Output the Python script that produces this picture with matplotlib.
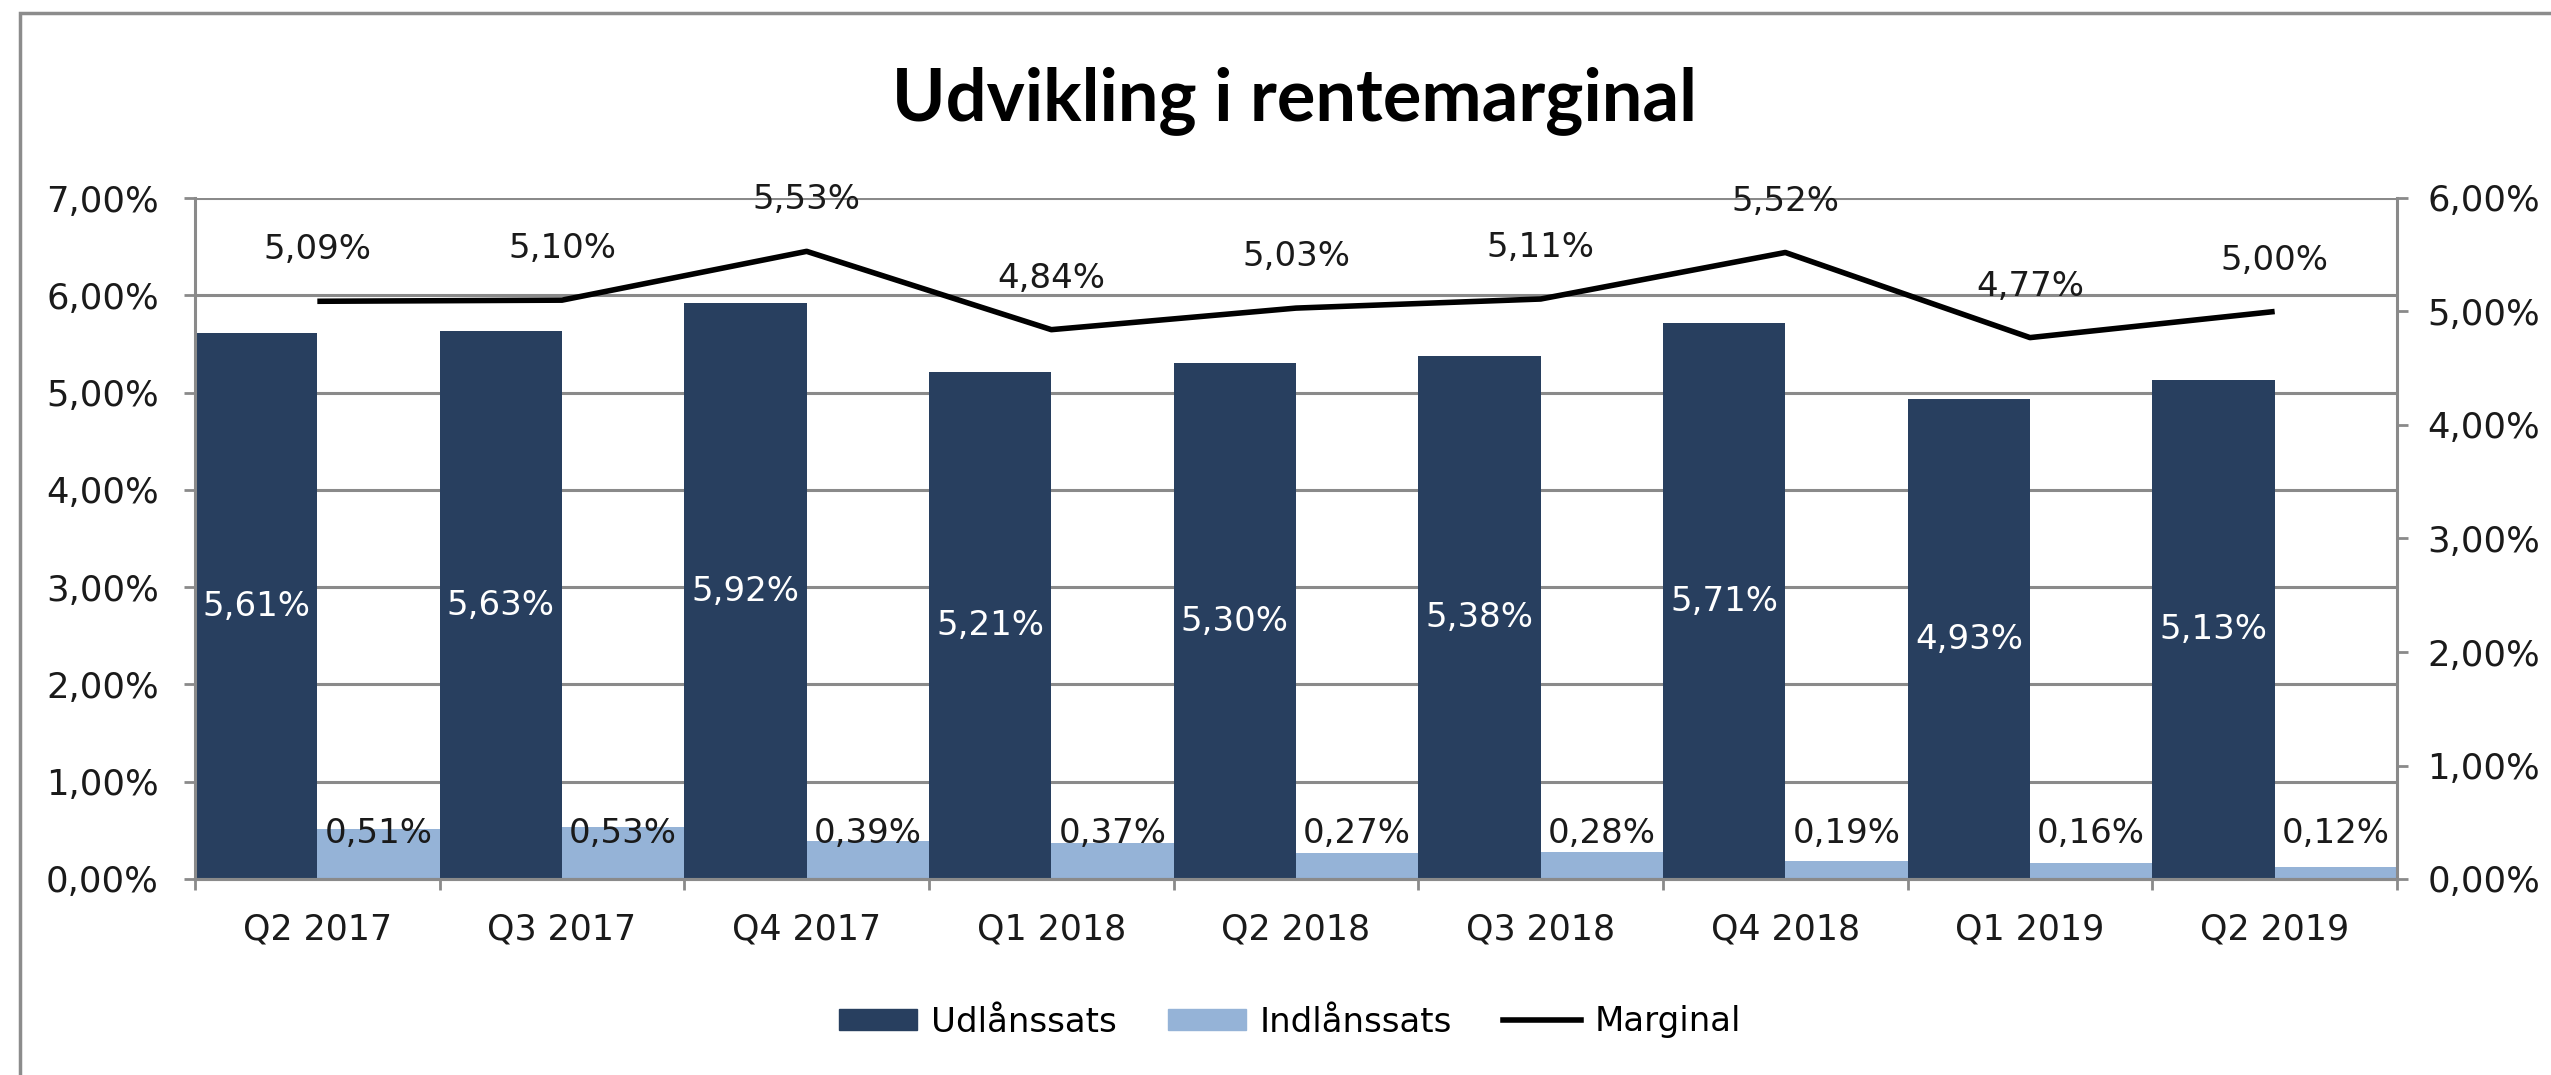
import matplotlib
matplotlib.use("Agg")
import matplotlib.pyplot as plt
from matplotlib.patches import Rectangle
from matplotlib.lines import Line2D

quarters = ["Q2 2017", "Q3 2017", "Q4 2017", "Q1 2018", "Q2 2018",
            "Q3 2018", "Q4 2018", "Q1 2019", "Q2 2019"]
udlaan = [5.61, 5.63, 5.92, 5.21, 5.30, 5.38, 5.71, 4.93, 5.13]
indlaan = [0.51, 0.53, 0.39, 0.37, 0.27, 0.28, 0.19, 0.16, 0.12]
marginal = [5.09, 5.10, 5.53, 4.84, 5.03, 5.11, 5.52, 4.77, 5.00]

dark = "#283f5f"
light = "#95b3d7"
grid_c = "#8a8a8a"

plt.rcParams["font.family"] = ["DejaVu Sans"]

def pct(v):
    return f"{v:.2f}%".replace(".", ",")

fig = plt.figure(figsize=(25.51, 10.75), dpi=100)
ax = fig.add_axes([195 / 2551, 1 - 879 / 1075, (2397 - 195) / 2551, (879 - 198) / 1075])
ax2 = ax.twinx()

x = list(range(len(quarters)))
ax.bar([i - 0.25 for i in x], udlaan, width=0.5, color=dark, zorder=2)
ax.bar([i + 0.25 for i in x], indlaan, width=0.5, color=light, zorder=2)

# etiketter: hvid midt i udlånssøjlen, sort lige over bunden for indlån
for i in x:
    ax.text(i - 0.25, udlaan[i] / 2, pct(udlaan[i]), ha="center", va="center",
            color="white", fontsize=24.5, zorder=3)
    ax.annotate(pct(indlaan[i]), (i + 0.25, 0), xytext=(0, 33),
                textcoords="offset points", ha="center", va="center",
                fontsize=24.5, color="#1a1a1a", zorder=3)

ax2.plot(x, marginal, color="black", lw=4, solid_capstyle="butt", zorder=4)
for i in x:
    ax2.annotate(pct(marginal[i]), (i, marginal[i]), xytext=(0, 37),
                 textcoords="offset points", ha="center", va="center",
                 fontsize=24.5, color="#1a1a1a")

ax.set_xlim(-0.5, len(quarters) - 0.5)
ax.set_ylim(0, 7)
ax2.set_ylim(0, 6)
ax.set_yticks(range(0, 8))
ax.set_yticklabels([pct(v) for v in range(0, 8)])
ax2.set_yticks(range(0, 7))
ax2.set_yticklabels([pct(v) for v in range(0, 7)])

ax.set_xticks(x)
ax.set_xticklabels(quarters)
ax.set_xticks([i - 0.5 for i in range(len(quarters) + 1)], minor=True)
ax.tick_params(axis="x", which="major", length=0, pad=24, labelsize=25, labelcolor="#1a1a1a")
ax.tick_params(axis="x", which="minor", length=8, width=2, color=grid_c, direction="out")
ax.tick_params(axis="y", length=8, width=2, color=grid_c, pad=18, labelsize=25.5, labelcolor="#1a1a1a")
ax2.tick_params(axis="y", length=8, width=2, color=grid_c, pad=14, labelsize=25.5, labelcolor="#1a1a1a")

ax.yaxis.grid(True, color=grid_c, lw=2.2)
ax.set_axisbelow(True)
for a in (ax, ax2):
    for s in a.spines.values():
        s.set_visible(False)
    a.spines["bottom"].set_visible(True)
    a.spines["bottom"].set_color(grid_c)
    a.spines["bottom"].set_linewidth(2.2)
ax.spines["left"].set_visible(True)
ax.spines["left"].set_color(grid_c)
ax.spines["left"].set_linewidth(2.2)
ax2.spines["right"].set_visible(True)
ax2.spines["right"].set_color(grid_c)
ax2.spines["right"].set_linewidth(2.2)

fig.text(1295 / 2551, 1 - 101 / 1075, "Udvikling i rentemarginal", ha="center", va="center",
         fontsize=52, fontweight="bold", family=["Lato", "DejaVu Sans"])

handles = [Rectangle((0, 0), 1, 1, color=dark), Rectangle((0, 0), 1, 1, color=light),
           Line2D([], [], color="black", lw=4)]
fig.legend(handles, ["Udlånssats", "Indlånssats", "Marginal"], loc="center",
           bbox_to_anchor=(1290 / 2551, 1 - 1022 / 1075), ncol=3, frameon=False,
           fontsize=24.5, handlelength=2.3, handleheight=0.6, handletextpad=0.4,
           columnspacing=1.5)

fig.add_artist(Rectangle((20 / 2551, -0.05), 1.1, 1 - 13 / 1075 + 0.05, transform=fig.transFigure,
                         fill=False, edgecolor="#8c8c8c", lw=2.5))

fig.savefig("out.png", dpi=100)
